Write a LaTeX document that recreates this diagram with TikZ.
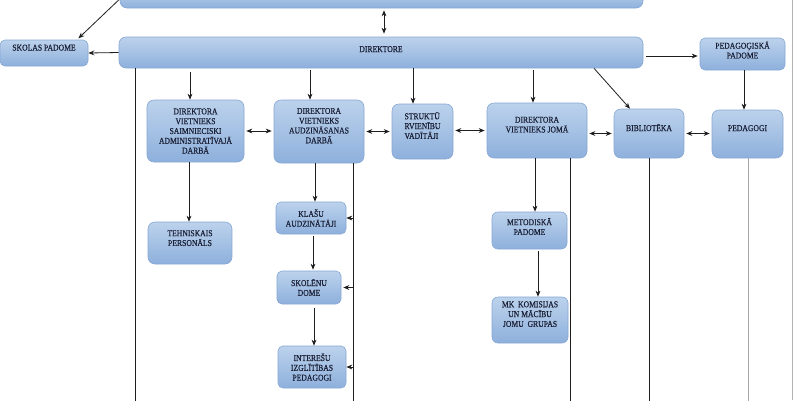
\documentclass[tikz,border=0pt]{standalone}
\usepackage{fontspec}
\setmainfont[FakeStretch=0.86,FakeBold=0.5]{Liberation Serif}
\usetikzlibrary{arrows.meta,calc}
\definecolor{boxtop}{HTML}{BCD2EC}
\definecolor{boxbot}{HTML}{8EB0DC}
\definecolor{boxline}{HTML}{86A7D3}
\definecolor{txt}{HTML}{1A2036}
\definecolor{ln}{HTML}{1E1E1E}
\tikzset{
  box/.style={draw=boxline, line width=0.6pt, rounded corners=7pt, top color=boxtop, bottom color=boxbot,
    text=txt, font=\fontsize{8.9}{9.8}\selectfont, align=center, inner sep=1pt},
  arr/.style={draw=ln, line width=0.8pt, -{Stealth[length=6pt,width=4.8pt]}},
  darr/.style={draw=ln, line width=0.8pt, {Stealth[length=6pt,width=4.8pt]}-{Stealth[length=6pt,width=4.8pt]}},
  vline/.style={draw=ln, line width=0.8pt},
}
\begin{document}
\begin{tikzpicture}[x=1pt,y=-1pt]
\fill[white] (0,0) rectangle (800,400);
\useasboundingbox (0,0) rectangle (800,400);
\clip (0,0) rectangle (800,400);

% nodes
\node[box, minimum width=523pt, minimum height=18pt] (top) at (381.5,-1) {};
\node[box, minimum width=88pt, minimum height=26pt, rounded corners=5pt] (skolas) at (44,53) {SKOLAS PADOME\\[1pt]};
\node[box, minimum width=524pt, minimum height=31pt] (dir) at (381,52.5) {DIREKTORE\\[-3pt]};
\node[box, minimum width=85pt, minimum height=32pt, rounded corners=5pt] (pedpad) at (742.5,54) {PEDAGOĢISKĀ\\PADOME\\[-2pt]};
\node[box, minimum width=97pt, minimum height=62pt] (dvs) at (195.5,131) {DIREKTORA\\VIETNIEKS\\SAIMNIECISKI\\ADMINISTRATĪVAJĀ\\DARBĀ};
\node[box, minimum width=90pt, minimum height=63pt] (dva) at (319,131.5) {DIREKTORA\\VIETNIEKS\\AUDZINĀSANAS\\DARBĀ\\[2pt]};
\node[box, minimum width=61pt, minimum height=55pt, align=left] (str) at (422.5,131.5) {STRUKTŪ\\RVIENĪBU\\VADĪTĀJI\\[2pt]};
\node[box, minimum width=100pt, minimum height=55pt] (dvj) at (537,130.5) {DIREKTORA\\VIETNIEKS JOMĀ\\[2pt]};
\node[box, minimum width=70pt, minimum height=49pt] (bib) at (649,133.5) {BIBLIOTĒKA\\[2pt]};
\node[box, minimum width=71pt, minimum height=48pt] (ped) at (747.5,134) {PEDAGOGI\\[2pt]};
\node[box, minimum width=84pt, minimum height=42pt] (teh) at (190,243) {TEHNISKAIS\\PERSONĀLS\\[0pt]};
\node[box, minimum width=70pt, minimum height=32pt, rounded corners=5pt] (kla) at (311,218) {KLAŠU\\AUDZINĀTĀJI};
\node[box, minimum width=64pt, minimum height=33pt, rounded corners=5pt] (sko) at (309,287.5) {SKOLĒNU\\DOME};
\node[box, minimum width=68pt, minimum height=42pt, rounded corners=5pt] (int) at (312,367) {INTEREŠU\\IZGLĪTĪBAS\\PEDAGOGI};
\node[box, minimum width=75pt, minimum height=37pt, rounded corners=6pt] (met) at (529.5,230.5) {METODISKĀ\\PADOME\\[-2pt]};
\node[box, minimum width=76pt, minimum height=46pt, rounded corners=6pt] (mk) at (530,320) {MK\ \ KOMISIJAS\\UN MĀCĪBU\\JOMU\ \ GRUPAS\\[2pt]};

% helper coordinates
\coordinate (b1) at (135,402);
\coordinate (b2) at (353,402);
\coordinate (b3) at (570,402);
\coordinate (b4) at (649,402);
\coordinate (b5) at (748,402);
\coordinate (x384) at (384,0);
\coordinate (x190) at (190,0);
\coordinate (x310) at (310,0);
\coordinate (x413) at (413,0);
\coordinate (x533) at (533,0);
\coordinate (x594) at (594,0);
\coordinate (x630) at (630,0);
\coordinate (x744) at (744,0);
\coordinate (x189) at (189,0);
\coordinate (x315) at (315,0);
\coordinate (x313) at (313,0);
\coordinate (x314) at (314,0);
\coordinate (x535) at (535,0);
\coordinate (x538) at (538,0);
\coordinate (sk) at (77,0);
\coordinate (pa) at (0,56);
\coordinate (pg1) at (792,0);
\coordinate (pg2) at (792,400);

% page border
\draw[gray!60, line width=0.8pt] (pg1) -- (pg2);

% connectors from the top
\draw[darr, shorten <=2pt, shorten >=3pt] (top.south -| x384) -- (dir.north -| x384);
\draw[arr, shorten >=2pt] (top.west) -- (skolas.north -| sk);
\draw[arr] (dir.west) -- (skolas.east);
\draw[arr, shorten <=3pt, shorten >=2pt] (dir.east |- pa) -- (pedpad.west |- pa);
\draw[arr, shorten <=4pt] (dir.south -| x190) -- (dvs.north -| x190);
\draw[arr, shorten <=2pt] (dir.south -| x310) -- (dva.north -| x310);
\draw[arr] (dir.south -| x413) -- (str.north -| x413);
\draw[arr, shorten <=2pt] (dir.south -| x533) -- (dvj.north -| x533);
\draw[arr] (dir.south -| x594) -- (bib.north -| x630);
\draw[arr] (pedpad.south -| x744) -- (ped.north -| x744);

% horizontal double arrows
\draw[darr, shorten <=2pt, shorten >=2pt] (dvs.east) -- (dva.west |- dvs.east);
\draw[darr, shorten <=2pt, shorten >=2pt] (dva.east) -- (str.west |- dva.east);
\draw[darr, shorten <=2pt, shorten >=2pt] (str.east |- dvj.east) -- (dvj.west);
\draw[darr, shorten <=2pt, shorten >=2pt] (dvj.east |- bib.west) -- (bib.west);
\draw[darr, shorten <=2pt, shorten >=2pt] (bib.east) -- (ped.west |- bib.east);

% long vertical lines
\draw[vline] (dir.south -| b1) -- (b1);
\draw[vline] (dva.south -| b2) -- (b2);
\draw[vline] (dvj.south -| b3) -- (b3);
\draw[vline] (bib.south -| b4) -- (b4);
\draw[vline, draw=gray!70] (ped.south -| b5) -- (b5);

% lower arrows
\draw[arr] (dvs.south -| x189) -- (teh.north -| x189);
\draw[arr] (dva.south -| x315) -- (kla.north -| x315);
\draw[arr, shorten <=2pt, shorten >=1pt] (kla.south -| x313) -- (sko.north -| x313);
\draw[arr, shorten <=4pt] (sko.south -| x314) -- (int.north -| x314);
\draw[arr] (kla.east -| b2) -- (kla.east);
\draw[arr, shorten >=2pt] (sko.east -| b2) -- (sko.east);
\draw[arr] (int.east -| b2) -- (int.east);
\draw[arr] (dvj.south -| x535) -- (met.north -| x535);
\draw[arr, shorten <=2pt] (met.south -| x538) -- (mk.north -| x538);
\end{tikzpicture}
\end{document}
